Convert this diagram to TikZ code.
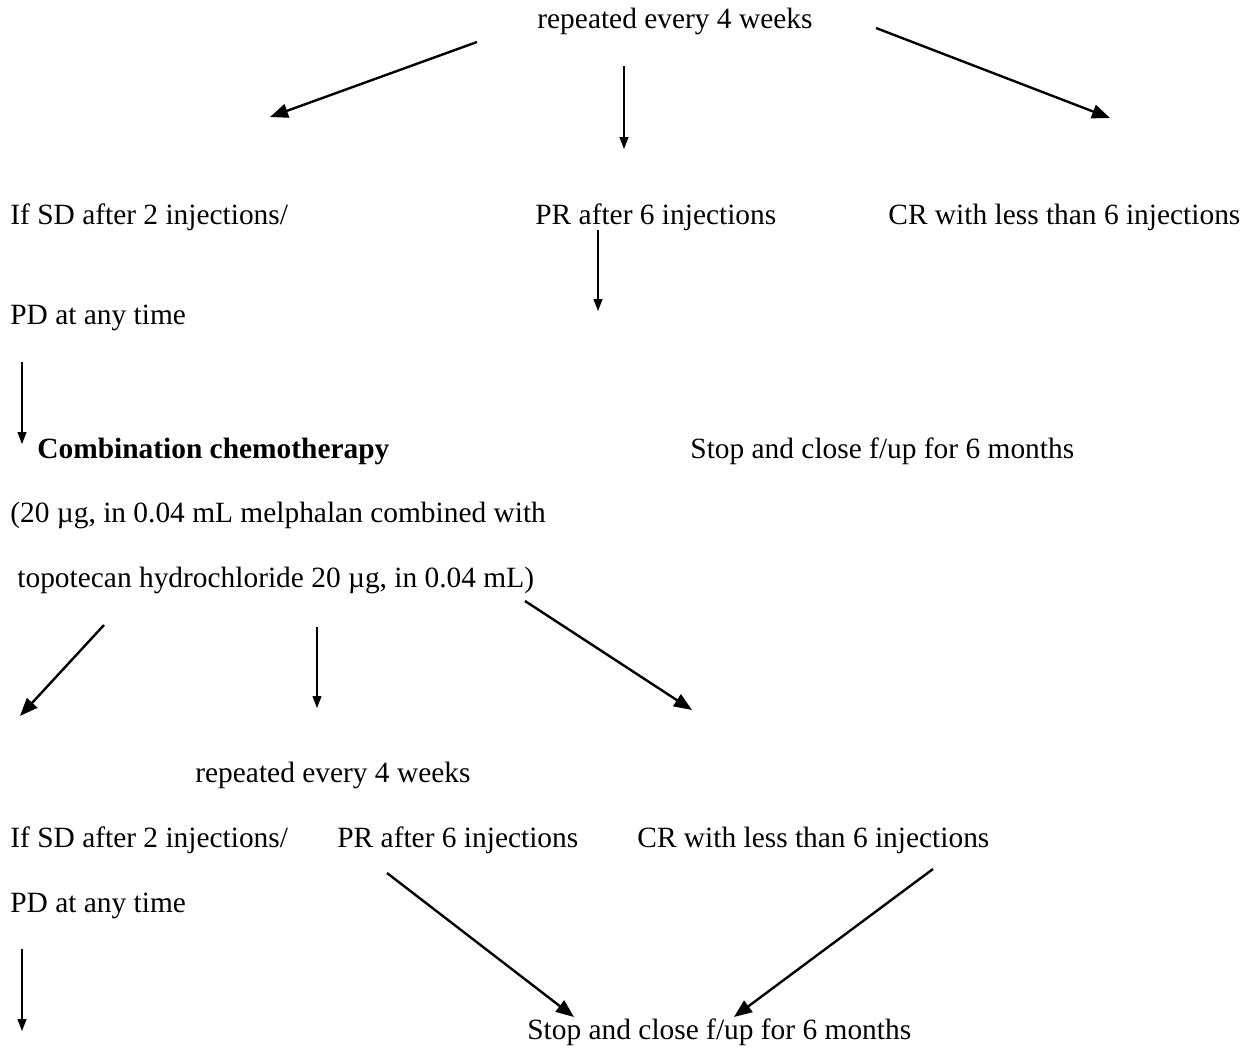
\documentclass[tikz,border=0pt]{standalone}
\usepackage{fontspec}
\setmainfont{Liberation Serif}
\usetikzlibrary{arrows.meta}
\begin{document}
\begin{tikzpicture}[x=0.5pt,y=-0.5pt,
  lbl/.style={anchor=base west,inner sep=0pt,font=\fontsize{14.7}{17}\selectfont},
  vline/.style={line width=0.65pt,-{Triangle[length=6pt,width=4.5pt]}},
  dline/.style={line width=1.2pt,-{Triangle[length=9pt,width=7pt]}}]
\useasboundingbox (0,0) rectangle (1250,1049);

% first treatment round
\node[lbl] (rep1) at (537,28) {repeated every 4 weeks};
\node[lbl] (sd1)  at (10,224)  {If SD after 2 injections/};
\node[lbl] (pr1)  at (535,224) {PR after 6 injections};
\node[lbl] (cr1)  at (888,224) {CR with less than 6 injections};
\node[lbl] (pd1)  at (10,324)  {PD at any time};
\node[lbl,font=\fontsize{14.7}{17}\selectfont\bfseries] (comb) at (37,458) {Combination chemotherapy};
\node[lbl] (stop1) at (690,458) {Stop and close f/up for 6 months};
\node[lbl] (dose1) at (10,522) {(20 µg, in 0.04 mL melphalan combined with};
\node[lbl] (dose2) at (17,587) {topotecan hydrochloride 20 µg, in 0.04 mL)};

% second treatment round
\node[lbl] (rep2) at (195,782) {repeated every 4 weeks};
\node[lbl] (sd2)  at (10,847)  {If SD after 2 injections/};
\node[lbl] (pr2)  at (337,847) {PR after 6 injections};
\node[lbl] (cr2)  at (637,847) {CR with less than 6 injections};
\node[lbl] (pd2)  at (10,912)  {PD at any time};
\node[lbl] (stop2) at (527,1039) {Stop and close f/up for 6 months};

% connector end points
\coordinate (a1s) at (477,42);   \coordinate (a1e) at (270,117);
\coordinate (a2s) at (624,66);   \coordinate (a2e) at (624,149);
\coordinate (a3s) at (876,28);   \coordinate (a3e) at (1110,118);
\coordinate (a4s) at (598,230);  \coordinate (a4e) at (598,311);
\coordinate (a5s) at (22,362);   \coordinate (a5e) at (22,444);
\coordinate (a6s) at (104,625);  \coordinate (a6e) at (20,716);
\coordinate (a7s) at (317,627);  \coordinate (a7e) at (317,708);
\coordinate (a8s) at (525,601);  \coordinate (a8e) at (692,710);
\coordinate (a9s) at (387,873);  \coordinate (a9e) at (574,1017);
\coordinate (a10s) at (933,869); \coordinate (a10e) at (734,1017);
\coordinate (a11s) at (22,949);  \coordinate (a11e) at (22,1031);

\draw[dline] (a1s) -- (a1e);
\draw[vline] (a2s) -- (a2e);
\draw[dline] (a3s) -- (a3e);
\draw[vline] (a4s) -- (a4e);
\draw[vline] (a5s) -- (a5e);
\draw[dline] (a6s) -- (a6e);
\draw[vline] (a7s) -- (a7e);
\draw[dline] (a8s) -- (a8e);
\draw[dline] (a9s) -- (a9e);
\draw[dline] (a10s) -- (a10e);
\draw[vline] (a11s) -- (a11e);
\end{tikzpicture}
\end{document}
